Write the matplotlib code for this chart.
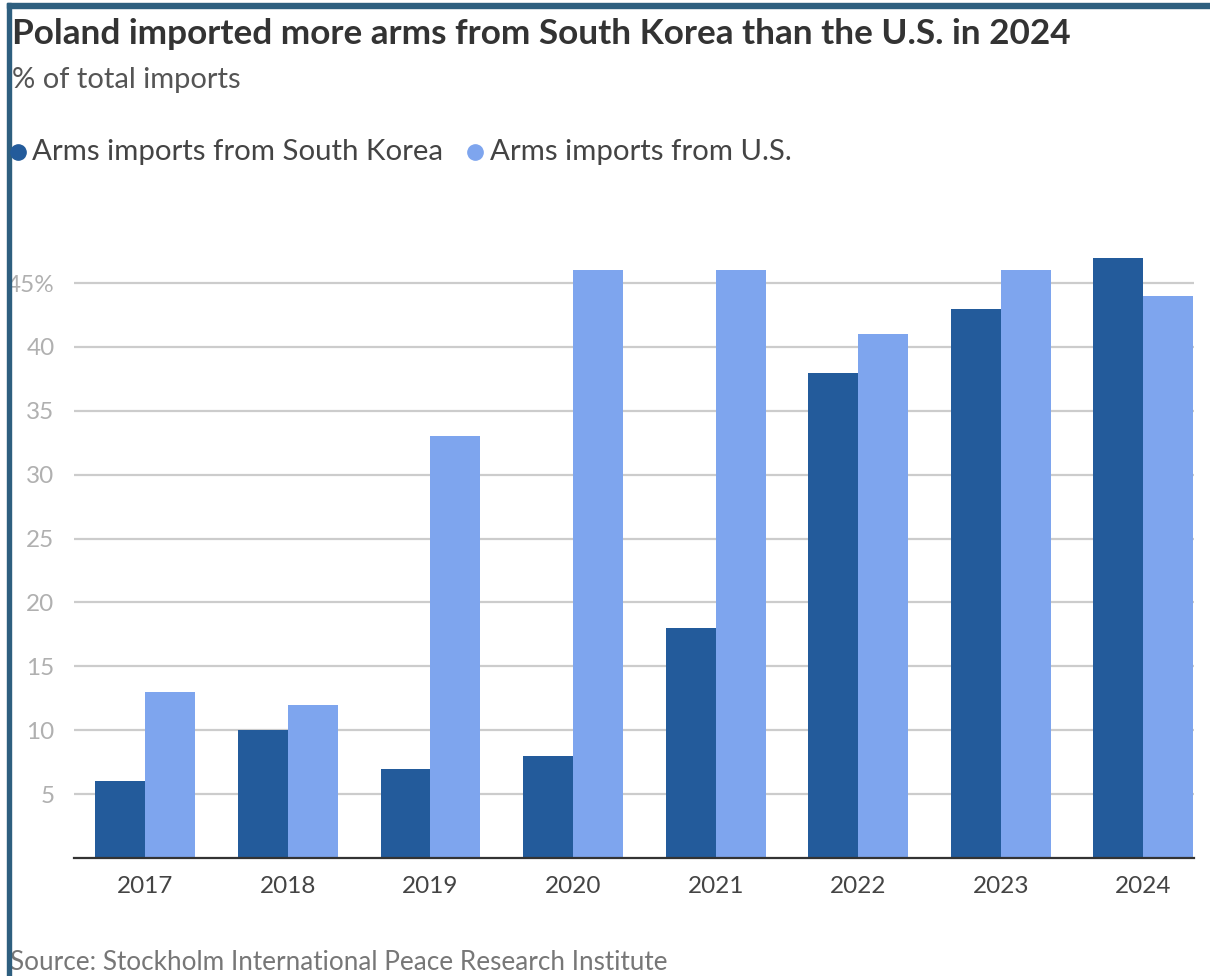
import matplotlib
matplotlib.use("Agg")
import matplotlib.pyplot as plt
from matplotlib.patches import Rectangle
from matplotlib.lines import Line2D
import numpy as np

years = ["2017", "2018", "2019", "2020", "2021", "2022", "2023", "2024"]
south_korea = [6, 10, 7, 8, 18, 38, 43, 47]
us = [13, 12, 33, 46, 46, 41, 46, 44]
yticks = [5, 10, 15, 20, 25, 30, 35, 40, 45]
ytick_labels = ["5", "10", "15", "20", "25", "30", "35", "40", "45%"]

C_SK = "#235b9b"
C_US = "#7ea5ee"
FRAME = "#2e5f7f"
FONT = "Lato"

W, H = 1210, 976
fig = plt.figure(figsize=(W / 100, H / 100), dpi=100)

def fx(px):
    return px / W

def fy(py):
    return 1 - py / H

ax_l, ax_r, ax_t, ax_b = 74, 1194, 232, 858
ax = fig.add_axes([fx(ax_l), fy(ax_b), fx(ax_r - ax_l), (ax_b - ax_t) / H])

x = np.arange(len(years))
w = 0.35
ax.bar(x - w / 2, south_korea, width=w, color=C_SK, zorder=3)
ax.bar(x + w / 2, us, width=w, color=C_US, zorder=3)

ax.set_xlim(-0.5, len(years) - 1 + w + 0.005)
ax.set_ylim(0, 49)
ax.set_yticks(yticks)
ax.set_yticklabels(ytick_labels)
ax.set_xticks(x)
ax.set_xticklabels(years)
ax.yaxis.grid(True, color="#cccccc", linewidth=1.6, zorder=0)
ax.set_axisbelow(True)
for s in ["top", "right", "left"]:
    ax.spines[s].set_visible(False)
ax.spines["bottom"].set_color("#333333")
ax.spines["bottom"].set_linewidth(1.6)
ax.spines["bottom"].set_zorder(4)
ax.tick_params(axis="y", length=0, pad=14, labelsize=17.5, labelcolor="#b0b0b0")
ax.tick_params(axis="x", length=0, pad=13, labelsize=17.5, labelcolor="#444444")
for lab in ax.get_xticklabels() + ax.get_yticklabels():
    lab.set_fontfamily(FONT)

# Frame lines (left and top)
fig.add_artist(Rectangle((fx(7), 0), fx(4), 1 - 3 / H, transform=fig.transFigure,
                         color=FRAME, zorder=10))
fig.add_artist(Rectangle((fx(7), fy(8)), 1 - fx(7), 5 / H, transform=fig.transFigure,
                         color=FRAME, zorder=10))

fig.text(fx(12), fy(34), "Poland imported more arms from South Korea than the U.S. in 2024",
         fontsize=25.3, fontweight="bold", color="#333333", family=FONT, va="center", ha="left")
fig.text(fx(12), fy(80), "% of total imports", fontsize=21, color="#555555",
         family=FONT, va="center", ha="left")

# legend
fig.add_artist(Line2D([fx(18)], [fy(152)], marker="o", markersize=11, color=C_SK,
                      transform=fig.transFigure, zorder=11))
fig.text(fx(32), fy(152), "Arms imports from South Korea", fontsize=21.2, color="#444444",
         family=FONT, va="center", ha="left")
fig.add_artist(Line2D([fx(475)], [fy(152)], marker="o", markersize=11, color=C_US,
                      transform=fig.transFigure, zorder=11))
fig.text(fx(490), fy(152), "Arms imports from U.S.", fontsize=21.2, color="#444444",
         family=FONT, va="center", ha="left")

fig.text(fx(10), fy(963), "Source: Stockholm International Peace Research Institute",
         fontsize=18.8, color="#777777", family=FONT, va="center", ha="left")

fig.savefig("out.png", dpi=100)
